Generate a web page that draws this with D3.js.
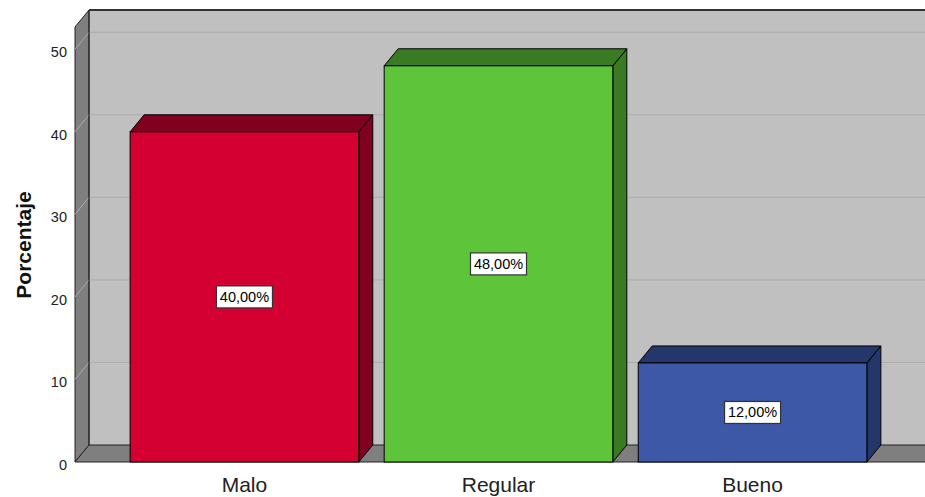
<!DOCTYPE html>
<html>
<head>
<meta charset="utf-8">
<script src="https://cdn.jsdelivr.net/npm/d3@7"></script>
<style>
  body { margin: 0; background: #fff; }
  svg { display: block; font-family: "Liberation Sans", Arial, sans-serif; }
</style>
</head>
<body>
<svg id="chart" width="925" height="497"></svg>
<script>
// data
let categories = ["Malo", "Regular", "Bueno"];
let values = [40, 48, 12];
let valueLabels = ["40,00%", "48,00%", "12,00%"];
let yTicks = [0, 10, 20, 30, 40, 50];
let frontColors = ["#d50032", "#5ec43a", "#3e58a8"];
let darkColors = ["#81001f", "#3a7a23", "#24366a"];

let svg = d3.select("#chart");

// front plane of the plot
let plotLeft = 75, plotRight = 922, plotBottom = 462, plotTop = 27;
// depth offset of the 3d box
let dx = 14, dy = -17;

let y = d3.scaleLinear().domain([0, 52.7]).range([plotBottom, plotTop]);
let x = d3.scaleBand()
    .domain(categories)
    .range([plotLeft, plotRight])
    .paddingInner(0.1)
    .paddingOuter(0.217);

// back wall
svg.append("rect")
    .attr("x", plotLeft + dx)
    .attr("y", plotTop + dy)
    .attr("width", 925 - plotLeft - dx + 5)
    .attr("height", plotBottom - plotTop)
    .attr("fill", "#c0c0c0");

// left wall
svg.append("path")
    .attr("d", `M${plotLeft},${plotTop} L${plotLeft + dx},${plotTop + dy} L${plotLeft + dx},${plotBottom + dy} L${plotLeft},${plotBottom} Z`)
    .attr("fill", "#7f7f7f")
    .attr("stroke", "#222")
    .attr("stroke-width", 1);

// floor
svg.append("path")
    .attr("d", `M${plotLeft},${plotBottom} L${plotLeft + dx},${plotBottom + dy} L${940},${plotBottom + dy} L${940},${plotBottom} Z`)
    .attr("fill", "#7f7f7f")
    .attr("stroke", "#222")
    .attr("stroke-width", 1);

// gridlines
yTicks.filter(d => d > 0).forEach(function (t) {
    let yy = y(t);
    svg.append("path")
        .attr("d", `M${plotLeft},${yy} L${plotLeft + dx},${yy + dy} L${940},${yy + dy}`)
        .attr("fill", "none")
        .attr("stroke", "#acacac")
        .attr("stroke-width", 1);
});

// top edge of back wall
svg.append("line")
    .attr("x1", plotLeft + dx).attr("x2", 930)
    .attr("y1", plotTop + dy).attr("y2", plotTop + dy)
    .attr("stroke", "#333").attr("stroke-width", 2);
svg.append("line")
    .attr("x1", plotLeft + dx).attr("x2", plotLeft + dx)
    .attr("y1", plotTop + dy).attr("y2", plotBottom + dy)
    .attr("stroke", "#222").attr("stroke-width", 1);

// bars
categories.forEach(function (c, i) {
    let x0 = x(c), x1 = x(c) + x.bandwidth();
    let y0 = y(values[i]), yb = y(0);
    let g = svg.append("g");
    // side
    g.append("path")
        .attr("d", `M${x1},${y0} L${x1 + dx},${y0 + dy} L${x1 + dx},${yb + dy} L${x1},${yb} Z`)
        .attr("fill", darkColors[i])
        .attr("stroke", "#000").attr("stroke-width", 1);
    // top
    g.append("path")
        .attr("d", `M${x0},${y0} L${x0 + dx},${y0 + dy} L${x1 + dx},${y0 + dy} L${x1},${y0} Z`)
        .attr("fill", darkColors[i])
        .attr("stroke", "#000").attr("stroke-width", 1);
    // front
    g.append("rect")
        .attr("x", x0).attr("y", y0)
        .attr("width", x.bandwidth()).attr("height", yb - y0)
        .attr("fill", frontColors[i])
        .attr("stroke", "#000").attr("stroke-width", 1);

    // value label
    let cx = x0 + x.bandwidth() / 2;
    let cy = y(values[i] / 2);
    g.append("rect")
        .attr("x", cx - 28).attr("y", cy - 11)
        .attr("width", 56).attr("height", 22)
        .attr("fill", "#fff")
        .attr("stroke", "#333").attr("stroke-width", 1.2);
    g.append("text")
        .attr("x", cx).attr("y", cy + 5)
        .attr("text-anchor", "middle")
        .attr("font-size", 14.5)
        .attr("fill", "#000")
        .text(valueLabels[i]);
});

// y tick labels
svg.selectAll(".ytick")
    .data(yTicks)
    .enter()
    .append("text")
    .attr("class", "ytick")
    .attr("x", 67)
    .attr("y", d => y(d) + 8)
    .attr("text-anchor", "end")
    .attr("font-size", 14.5)
    .attr("fill", "#222")
    .text(d => d);

// category labels
svg.selectAll(".xlab")
    .data(categories)
    .enter()
    .append("text")
    .attr("class", "xlab")
    .attr("x", d => x(d) + x.bandwidth() / 2)
    .attr("y", 492)
    .attr("text-anchor", "middle")
    .attr("font-size", 21)
    .attr("fill", "#222")
    .text(d => d);

// y axis title
svg.append("text")
    .attr("transform", "rotate(-90)")
    .attr("x", -245)
    .attr("y", 31)
    .attr("text-anchor", "middle")
    .attr("font-size", 21)
    .attr("font-weight", "bold")
    .attr("fill", "#111")
    .text("Porcentaje");
</script>
</body>
</html>
